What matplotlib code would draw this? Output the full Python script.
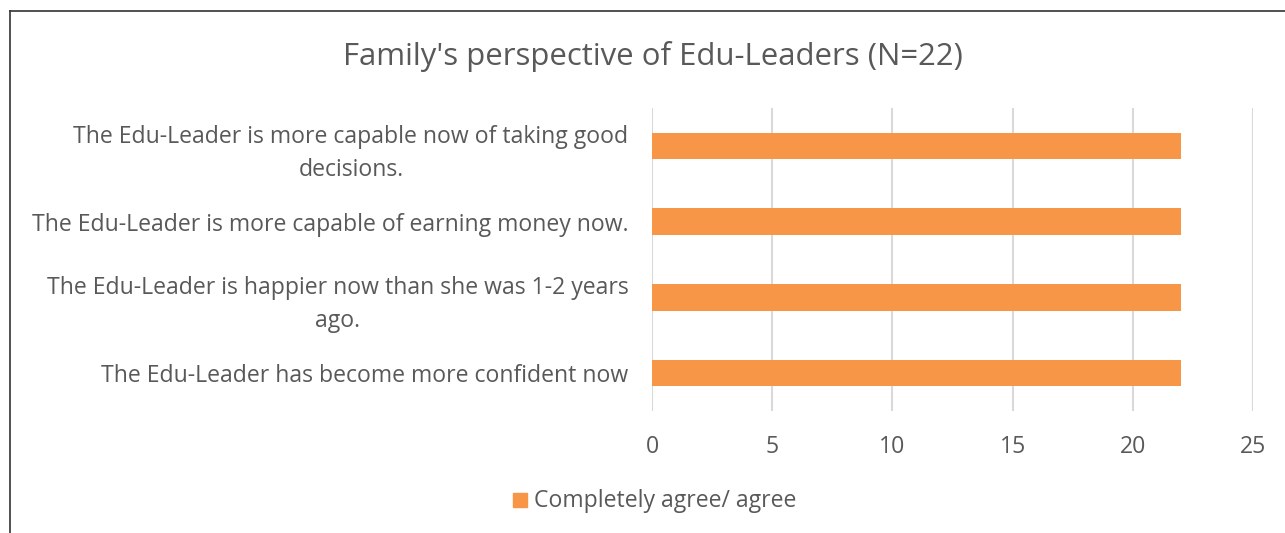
import matplotlib
matplotlib.use("Agg")
import matplotlib.pyplot as plt
from matplotlib.patches import Rectangle
from matplotlib.lines import Line2D

categories = [
    "The Edu-Leader has become more confident now",
    "The Edu-Leader is happier now than she was 1-2 years\nago.",
    "The Edu-Leader is more capable of earning money now.",
    "The Edu-Leader is more capable now of taking good\ndecisions.",
]
values = [22, 22, 22, 22]
series_name = "Completely agree/ agree"
title = "Family's perspective of Edu-Leaders (N=22)"
xticks = [0, 5, 10, 15, 20, 25]

plt.rcParams['font.family'] = ['Open Sans', 'DejaVu Sans']
grey = '#595959'
orange = '#F79646'
fs = 16.6

fig = plt.figure(figsize=(12.85, 5.33), dpi=100)
ax = fig.add_axes([652/1285, 1-411/533, (1253-652)/1285, (411-108)/533])

ypos = list(range(len(categories)))
ax.barh(ypos, values, height=0.35, color=orange, zorder=3, label=series_name)
ax.set_ylim(-0.5, len(categories)-0.5)
ax.set_xlim(0, 25)
ax.set_xticks(xticks)
ax.set_xticklabels([str(t) for t in xticks])
ax.set_yticks(ypos)
ax.set_yticklabels(categories, linespacing=1.5)
ax.tick_params(axis='y', length=0, pad=17, labelsize=fs, labelcolor=grey)
for lbl in ax.get_yticklabels():
    lbl.set_horizontalalignment('right')
    lbl.set_multialignment('center')
ax.tick_params(axis='x', length=0, pad=17, labelsize=fs, labelcolor=grey)
ax.grid(axis='x', color='#D9D9D9', linewidth=1.5, zorder=0)
for s in ax.spines.values():
    s.set_visible(False)

fig.text(653/1285, 1-56/533, title, ha='center', va='center', fontsize=22.4, color=grey)

# legend
fig.patches.append(Rectangle((513/1285, 1-507/533), 14/1285, 14/533,
                             transform=fig.transFigure, color=orange))
fig.text(534/1285, 1-501/533, series_name, ha='left', va='center', fontsize=fs, color=grey)

# border
fig.lines.append(Line2D([10/1285, 10/1285], [0, 1-11/533], transform=fig.transFigure, color='#333333', linewidth=1.2))
fig.lines.append(Line2D([10/1285, 1], [1-11/533, 1-11/533], transform=fig.transFigure, color='#333333', linewidth=1.2))

fig.savefig("out.png", dpi=100, facecolor='white')
